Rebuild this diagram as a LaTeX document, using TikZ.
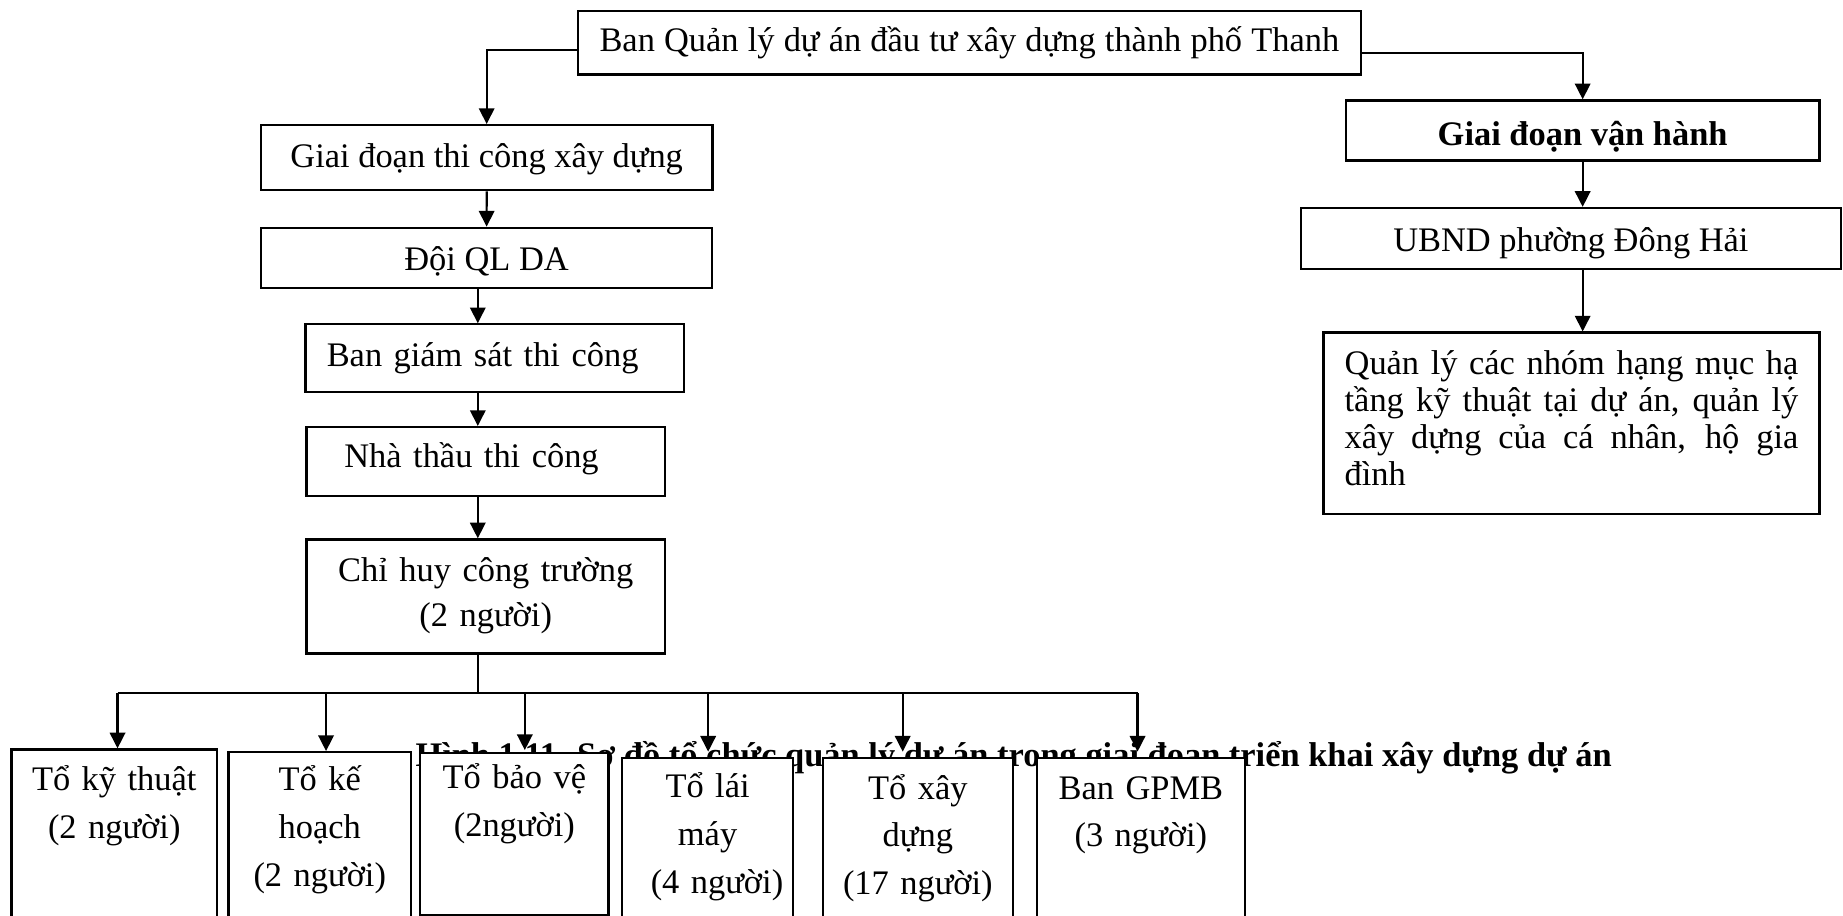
\documentclass[tikz,border=0pt]{standalone}
\usepackage{fontspec}
\setmainfont{Liberation Serif}
\usetikzlibrary{arrows.meta}

\begin{document}
\begin{tikzpicture}[x=0.015cm,y=-0.015cm,
  unit/.style={draw,line width=0.8pt,fill=white,inner sep=0pt,anchor=north,
    font=\fontsize{12.5}{15}\selectfont},
  team/.style={unit,align=center,text height=0.51cm,text depth=1.9cm,
    font=\fontsize{12.5}{17.3}\selectfont},
  link/.style={line width=0.8pt},
  arr/.style={link,-{Triangle[length=5.7pt,width=5.6pt]}}]
          \useasboundingbox (0,0) rectangle (1568,779.3);
          \clip (0,0) rectangle (1568,779.3);
          \node (cap) at (1379.6,652) [anchor=base east,font=\fontsize{12.5}{15}\selectfont\bfseries]
          {Hình 1.11. Sơ đồ tổ chức quản lý dự án trong giai đoạn triển khai xây dựng dự án};
          \node (top) at (824.75,8.5) [unit,minimum width=9.998cm,text height=0.51cm,text depth=0.2985cm]
          {\makebox[9.44cm][s]{Ban Quản lý dự án đầu tư xây dựng thành phố Thanh}};
          \node (g1) at (414.05,105.5) [unit,minimum width=5.765cm,text height=0.5445cm,text depth=0.288cm]
          {Giai đoạn thi công xây dựng};
          \node (doi) at (414,192.8) [unit,minimum width=5.76cm,text height=0.543cm,text depth=0.2235cm]
          {Đội QL DA};
          \node (bgs) at (420.8,275) [unit,inner xsep=0.27cm,text width=4.284cm,align=left,text height=0.5325cm,text depth=0.3285cm]
          {Ban giám sát thi công};
          \node (nt) at (413.25,362.4) [unit,inner xsep=0.4845cm,text width=3.6075cm,align=left,text height=0.519cm,text depth=0.36cm]
          {Nhà thầu thi công};
          \node (ch) at (413.25,458) [unit,text width=4.5765cm,align=center,text height=0.5325cm,text depth=0.9225cm,font=\fontsize{12.5}{16.3}\selectfont]
          {Chỉ huy công trường\\(2 người)};
          \node (op) at (1346.5,84.5) [unit,minimum width=6.045cm,text height=0.57cm,text depth=0.1965cm,font=\fontsize{12.5}{15}\selectfont\bfseries]
          {Giai đoạn vận hành};
          \node (ubnd) at (1336.5,176) [unit,minimum width=6.885cm,text height=0.5505cm,text depth=0.2295cm]
          {UBND phường Đông Hải};
          \node (ql) at (1337,282) [unit,inner xsep=0.27cm,text width=5.79cm,align=justify,text height=0.534cm,text depth=1.7835cm,font=\fontsize{12.5}{13.4}\selectfont]
          {Quản lý các nhóm hạng mục hạ\linebreak tầng kỹ thuật tại dự án, quản lý\linebreak xây dựng của cá nhân, hộ gia\linebreak đình};
          \node (t1) at (97.2,636.7) [team,text width=2.622cm,text height=0.5295cm]
          {Tổ kỹ thuật\\(2 người)};
          \node (t2) at (272.05,639) [team,text width=2.3295cm,text height=0.495cm]
          {Tổ kế\\hoạch\\(2 người)};
          \node (t3) at (437.6,639.5) [team,text width=2.403cm,text height=0.4575cm,text depth=1.62cm]
          {Tổ bảo vệ\\(2người)};
          \node (t4) at (602,643.7) [team,text width=2.19cm,text height=0.5115cm]
          {Tổ lái\\máy\\\hspace*{0.24cm}(4 người)};
          \node (t5) at (780.9,643.7) [team,text width=2.427cm,text height=0.53cm]
          {Tổ xây\\dựng\\(17 người)};
          \node (t6) at (970.6,643.7) [team,text width=2.649cm,text height=0.53cm]
          {Ban GPMB\\(3 người)};
          \coordinate (spine) at (406.5,589.6);
          \draw[arr] ([yshift=-0.093cm]top.west) -| (g1.north);
          \draw[arr] ([yshift=-0.1275cm]top.east) -| (op.north);
          \draw[arr] (g1.south) -- (doi.north);
          \draw[arr] (doi.south -| spine) -- (bgs.north -| spine);
          \draw[arr] (bgs.south -| spine) -- (nt.north -| spine);
          \draw[arr] (nt.south -| spine) -- (ch.north -| spine);
          \draw[link] (ch.south -| spine) -- (spine);
          \draw[link] (100,589.6) -- (967.8,589.6);
          \draw[arr] (op.south) -- (op.south |- ubnd.north);
          \draw[arr] (ubnd.south -| op.south) -- (ql.north -| op.south);
          \foreach \n/\x/\s in {t1/100/0,t2/277.4/0,t3/446.5/0.02,t4/602.5/0.063,t5/768/0.063,t6/967.8/0.063}
            \draw[arr,shorten >=\s cm] (\x,589.6) -- (\x,589.6 |- \n.north);
\end{tikzpicture}
\end{document}
